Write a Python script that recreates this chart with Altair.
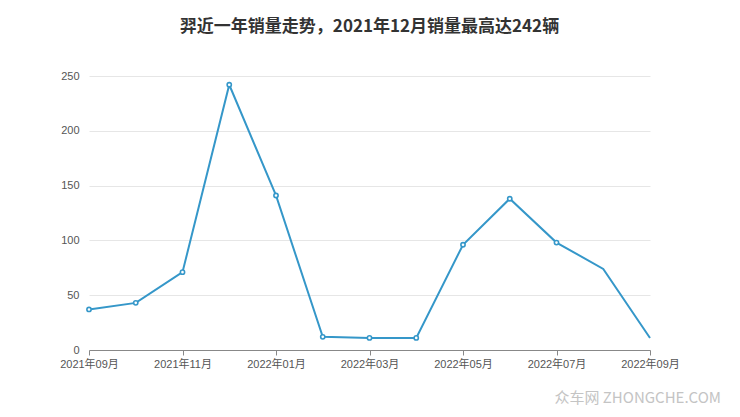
import altair as alt
import pandas as pd

months = ["2021年09月", "2021年10月", "2021年11月", "2021年12月", "2022年01月",
          "2022年02月", "2022年03月", "2022年04月", "2022年05月", "2022年06月",
          "2022年07月", "2022年08月", "2022年09月"]
sales = [37, 43, 71, 242, 141, 12, 11, 11, 96, 138, 98, 74, 11]
show_marker = [True] * 11 + [False, False]
y_ticks = [0, 50, 100, 150, 200, 250]
title_text = "羿近一年销量走势，2021年12月销量最高达242辆"
watermark = "众车网  ZHONGCHE.COM"

df = pd.DataFrame({"month": months, "sales": sales, "marker": show_marker})

FONT = "Liberation Sans, Noto Sans CJK SC"
TFONT = "Noto Sans CJK SC"
COLOR = "#3597c9"

x_enc = alt.X("month:O", sort=months,
              scale=alt.Scale(type="point", padding=0),
              axis=alt.Axis(values=months[::2], labelAngle=0, title=None,
                            labelColor="#555", labelFontSize=11, labelFont=FONT,
                            domainColor="#888", tickColor="#888", tickSize=5,
                            labelPadding=3, grid=False))
y_enc = alt.Y("sales:Q", scale=alt.Scale(domain=[0, 250], nice=False),
              axis=alt.Axis(values=y_ticks, title=None, domain=False, ticks=False,
                            labelColor="#555", labelFontSize=11, labelPadding=10,
                            gridColor="#e6e6e6", labelFont=FONT))

base = alt.Chart(df)
line = base.mark_line(color=COLOR, strokeWidth=2).encode(x=x_enc, y=y_enc)
pts = base.transform_filter("datum.marker").mark_point(
    shape="circle", filled=True, fill="white", stroke=COLOR, strokeWidth=1.6,
    size=18, opacity=1).encode(x=x_enc, y=y_enc)

wm = alt.Chart(pd.DataFrame({"t": [watermark]})).mark_text(
    align="right", baseline="middle", fontSize=15, color="#c4c4c4", font=TFONT
).encode(text="t:N", x=alt.value(632), y=alt.value(322))

chart = alt.layer(line, pts, wm).properties(
    width=561, height=274,
    padding={"left": 81, "top": 68, "right": 82, "bottom": 59},
    autosize=alt.AutoSizeParams(type="none"),
    title=alt.TitleParams(title_text, fontSize=17, font=TFONT, fontWeight="bold",
                          color="#333", anchor="middle", offset=34),
).configure_view(stroke=None)

chart.save("out.html", embed_options={"renderer": "svg", "actions": False})
